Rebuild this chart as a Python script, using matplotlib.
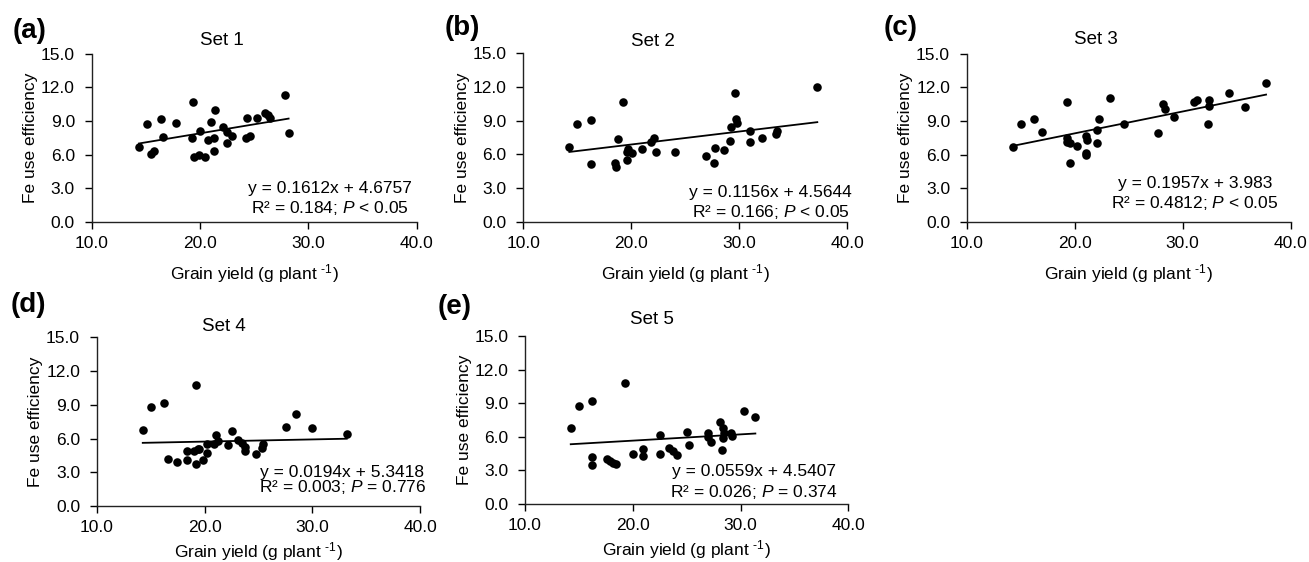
import numpy as np
import matplotlib
matplotlib.use("Agg")
import matplotlib.pyplot as plt

plt.rcParams['font.family'] = ['Liberation Sans', 'DejaVu Sans']
plt.rcParams['mathtext.fontset'] = 'custom'
plt.rcParams['mathtext.rm'] = 'Liberation Sans'
plt.rcParams['mathtext.it'] = 'Liberation Sans:italic'

# Grain yield (x) and Fe use efficiency (y)
x1 = [14.37, 15.08, 15.48, 15.75, 16.37, 16.6, 17.78, 19.32, 19.23, 19.48, 19.94, 20.0, 20.46,
      20.77, 20.98, 21.38, 21.32, 21.32, 22.15, 22.46, 22.52, 23.0, 24.25, 24.6, 24.37, 25.23,
      26.0, 26.3, 26.5, 27.88, 28.18]
y1 = [6.71, 8.74, 6.05, 6.32, 9.16, 7.6, 8.8, 10.74, 7.52, 5.82, 5.96, 8.14, 5.82,
      7.31, 8.89, 9.99, 7.46, 6.35, 8.5, 8.05, 7.0, 7.66, 7.46, 7.66, 9.25, 9.25,
      9.75, 9.54, 9.25, 11.33, 7.96]

x2 = [14.26, 15.0, 16.27, 16.27, 18.49, 18.58, 18.73, 19.26, 19.63, 19.63, 19.72, 20.09, 20.96,
      21.79, 22.1, 22.25, 24.07, 26.91, 27.65, 27.78, 28.58, 29.14, 29.2, 29.6, 29.69, 29.81,
      30.99, 30.99, 32.07, 33.36, 33.52, 37.22]
y2 = [6.65, 8.7, 9.06, 5.17, 5.2, 4.84, 7.37, 10.69, 6.24, 5.49, 6.47, 6.09, 6.44,
      7.07, 7.45, 6.24, 6.24, 5.85, 5.26, 6.53, 6.39, 7.19, 8.4, 11.43, 9.15, 8.76,
      8.11, 7.13, 7.42, 7.81, 8.11, 11.97]

x3 = [14.26, 15.03, 16.23, 17.01, 19.26, 19.32, 19.26, 19.57, 19.57, 20.25, 21.02, 21.05, 21.05,
      21.17, 22.04, 22.25, 22.1, 23.27, 24.57, 27.75, 28.21, 28.4, 29.23, 31.05, 31.3, 32.47,
      32.47, 32.38, 34.29, 35.74, 37.72]
y3 = [6.71, 8.74, 9.16, 8.05, 10.74, 7.52, 7.16, 7.07, 5.22, 6.8, 6.17, 5.96, 7.69,
      7.31, 8.2, 9.16, 7.0, 11.03, 8.71, 7.9, 10.5, 10.08, 9.33, 10.74, 10.89, 10.89,
      10.35, 8.71, 11.48, 10.23, 12.44]

x4 = [14.27, 15.01, 16.25, 16.65, 17.49, 18.41, 18.35, 19.03, 19.22, 19.19, 19.43, 19.53, 19.9,
      20.21, 20.27, 20.92, 21.05, 21.21, 22.22, 22.53, 23.08, 23.46, 23.76, 23.76, 24.75, 25.31,
      25.47, 27.57, 28.5, 29.95, 33.2]
y4 = [6.76, 8.78, 9.19, 4.18, 3.94, 4.09, 4.92, 4.92, 10.76, 3.71, 5.07, 5.07, 4.09,
      4.74, 5.51, 5.48, 6.31, 5.81, 5.43, 6.7, 5.87, 5.63, 5.28, 4.92, 4.6, 5.13,
      5.51, 7.06, 8.15, 6.91, 6.4]

x5 = [14.24, 15.01, 16.25, 16.25, 16.25, 17.58, 17.89, 18.13, 18.44, 19.28, 19.99, 20.92, 20.92,
      22.53, 22.53, 23.39, 23.7, 24.14, 25.0, 25.25, 27.01, 27.01, 27.23, 28.1, 28.25, 28.4,
      28.34, 28.5, 29.11, 29.24, 30.32, 31.37]
y5 = [6.76, 8.78, 9.2, 4.23, 3.48, 4.02, 3.87, 3.69, 3.57, 10.77, 4.46, 4.88, 4.32,
      6.16, 4.43, 5.03, 4.73, 4.38, 6.46, 5.27, 6.31, 5.95, 5.57, 7.35, 4.82, 6.76,
      5.86, 6.37, 6.37, 6.07, 8.3, 7.8]

xs = [x1, x2, x3, x4, x5]
ys = [y1, y2, y3, y4, y5]
slopes = [0.1612, 0.1156, 0.1957, 0.0194, 0.0559]
intercepts = [4.6757, 4.5644, 3.983, 5.3418, 4.5407]
eq_lines = ["y = 0.1612x + 4.6757", "y = 0.1156x + 4.5644", "y = 0.1957x + 3.983",
            "y = 0.0194x + 5.3418", "y = 0.0559x + 4.5407"]
stat_lines = ["R² = 0.184; $P$ < 0.05", "R² = 0.166; $P$ < 0.05", "R² = 0.4812; $P$ < 0.05",
              "R² = 0.003; $P$ = 0.776", "R² = 0.026; $P$ = 0.374"]
titles = ["Set 1", "Set 2", "Set 3", "Set 4", "Set 5"]
letters = ["(a)", "(b)", "(c)", "(d)", "(e)"]
xticks = [10.0, 20.0, 30.0, 40.0]
yticks = [0.0, 3.0, 6.0, 9.0, 12.0, 15.0]

# layout (figure fractions) and text placement (axes fractions)
axes_pos = [[0.0700, 0.6056, 0.2483, 0.2984],
            [0.3998, 0.6056, 0.2475, 0.2995],
            [0.7385, 0.6056, 0.2475, 0.2984],
            [0.0739, 0.0996, 0.2470, 0.3001],
            [0.4011, 0.1032, 0.2470, 0.2989]]
eq_x = [0.732, 0.764, 0.705, 0.760, 0.707]
eq_y1 = [0.200, 0.172, 0.229, 0.199, 0.196]
eq_y2 = [0.082, 0.059, 0.110, 0.112, 0.073]
title_y = [1.083, 1.069, 1.088, 1.065, 1.100]
xlabel_pad = [8, 8, 8, 4, 4]
letter_px = [(30, 31), (462, 28), (901, 28), (28, 305), (455, 307)]

W, H = 1309, 562
fig = plt.figure(figsize=(W / 100, H / 100), dpi=100)

for i in range(5):
    ax = fig.add_axes(axes_pos[i])
    x = np.array(xs[i])
    y = np.array(ys[i])
    ax.scatter(x, y, s=38, color='black', zorder=3, linewidths=0)
    xl = np.array([x.min(), x.max()])
    ax.plot(xl, slopes[i] * xl + intercepts[i], color='black', lw=1.3, zorder=2)

    ax.set_xlim(10, 40)
    ax.set_ylim(0, 15)
    ax.set_xticks(xticks)
    ax.set_yticks(yticks)
    ax.set_xticklabels([f"{t:.1f}" for t in xticks])
    ax.set_yticklabels([f"{t:.1f}" for t in yticks])
    ax.tick_params(labelsize=12.5, length=5, width=1, colors='black', direction='out')
    ax.tick_params(axis='y', pad=7)
    ax.tick_params(axis='x', pad=5)
    for s in ['top', 'right']:
        ax.spines[s].set_visible(False)
    for s in ['left', 'bottom']:
        ax.spines[s].set_linewidth(1)
        ax.spines[s].set_color('#222222')

    ax.set_xlabel(r"Grain yield (g plant $^{\text{-1}}$)", fontsize=12.5, labelpad=xlabel_pad[i])
    ax.set_ylabel("Fe use efficiency", fontsize=12.5, labelpad=2)
    ax.text(0.4 if i < 3 else 0.393, title_y[i], titles[i], transform=ax.transAxes,
            ha='center', va='center', fontsize=13.5)
    ax.text(eq_x[i], eq_y1[i], eq_lines[i], transform=ax.transAxes,
            ha='center', va='center', fontsize=12.5)
    ax.text(eq_x[i], eq_y2[i], stat_lines[i], transform=ax.transAxes,
            ha='center', va='center', fontsize=12.5)

    px, py = letter_px[i]
    fig.text(px / W, 1 - py / H, letters[i], ha='center', va='center',
             fontsize=20, fontweight='bold')

fig.savefig("out.png", dpi=100)
